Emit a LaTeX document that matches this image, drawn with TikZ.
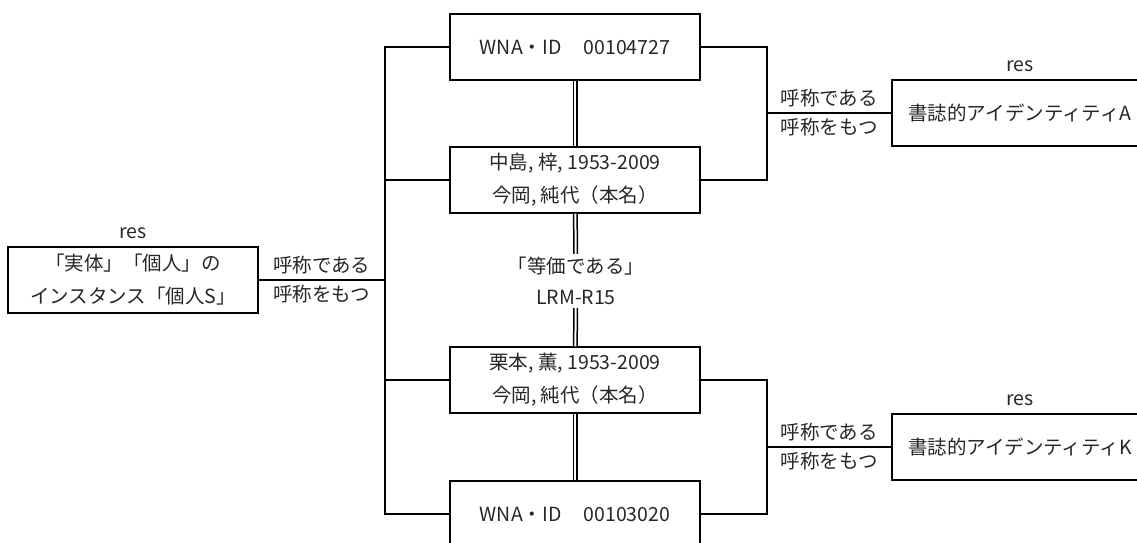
\documentclass[tikz,border=0pt]{standalone}
\usepackage{fontspec}
\setmainfont{Noto Sans CJK JP}
\usetikzlibrary{positioning}

\tikzset{
	entbox/.style={draw, line width=1.2pt, minimum width=250pt, minimum height=66pt, align=center, font=\fontsize{19.5}{33}\selectfont, text=black!85},
	lbl/.style={font=\fontsize{19.5}{31}\selectfont, text=black!85},
	link/.style={line width=1.2pt},
	eqline/.style={double, double distance=2pt, line width=1.5pt},
}

\begin{document}
\begin{tikzpicture}[x=1pt, y=-1pt]
	\clip (0,0) rectangle (1137,543);
	% person
	\node[entbox] (pers) at (133,280) {「実体」「個人」の\\インスタンス「個人S」};
	\node[lbl, above=4pt of pers] (persres) {res};
	% nomens
	\node[entbox] (wnaA) at (575,47) {WNA・ID\hspace{22pt}00104727};
	\node[entbox] (nmA) at (575,180) {中島, 梓, 1953-2009\\今岡, 純代（本名）};
	\node[entbox] (nmK) at (575,380) {栗本, 薫, 1953-2009\\今岡, 純代（本名）};
	\node[entbox] (wnaK) at (575,514) {WNA・ID\hspace{22pt}00103020};
	\node[lbl, align=center, inner sep=3pt] (equiv) at (576,281) {「等価である」\\LRM-R15};
	% bibliographic identities
	\node[entbox, minimum width=256pt] (idA) at (1020,113) {書誌的アイデンティティA};
	\node[lbl, above=4pt of idA] (idAres) {res};
	\node[entbox, minimum width=256pt] (idK) at (1020,447) {書誌的アイデンティティK};
	\node[lbl, above=4pt of idK] (idKres) {res};

	\coordinate (trunk) at (385,280);
	\coordinate (forkA) at (767,113);
	\coordinate (forkK) at (767,447);

	\draw[link] (wnaA.west) -| (trunk) |- (wnaK.west);
	\draw[link] (nmA.west) -| (trunk);
	\draw[link] (nmK.west) -| (trunk);
	\draw[link] (pers.east) -- node[lbl, above=2pt] {呼称である} node[lbl, below=1pt] {呼称をもつ} (trunk);

	\draw[link] (wnaA.east) -| (forkA) |- (nmA.east);
	\draw[link] (forkA) -- node[lbl, above=2pt] {呼称である} node[lbl, below=1pt] {呼称をもつ} (idA.west);
	\draw[link] (nmK.east) -| (forkK) |- (wnaK.east);
	\draw[link] (forkK) -- node[lbl, above=2pt] {呼称である} node[lbl, below=1pt] {呼称をもつ} (idK.west);

	\draw[eqline] (wnaA) -- (nmA);
	\draw[eqline] (nmA) -- (equiv);
	\draw[eqline] (equiv) -- (nmK);
	\draw[eqline] (nmK) -- (wnaK);
\end{tikzpicture}
\end{document}
